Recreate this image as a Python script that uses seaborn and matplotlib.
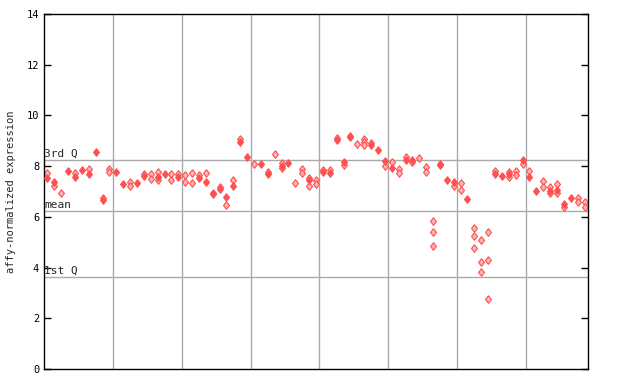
import numpy as np
import pandas as pd
import seaborn as sns
import matplotlib.pyplot as plt

# sample number (1..79) and expression values
filled_idx = [1, 2, 4, 5, 6, 7, 8, 9, 11, 12, 14, 15, 17, 18, 20, 23, 24, 25, 26, 27,
              28, 29, 30, 32, 33, 35, 36, 39, 41, 42, 43, 44, 45, 48, 49, 50, 51, 53,
              54, 58, 59, 60, 62, 66, 67, 68, 70, 71, 72, 74, 75, 76, 77]
filled_val = [7.54, 7.36, 7.82, 7.58, 7.86, 7.70, 8.54, 6.66, 7.78, 7.29, 7.35, 7.63,
              7.56, 7.69, 7.57, 7.54, 7.39, 6.89, 7.10, 6.80, 7.22, 8.96, 8.37, 8.10,
              7.68, 8.02, 8.14, 7.45, 7.76, 7.74, 9.03, 8.17, 9.14, 8.83, 8.62, 8.21,
              7.94, 8.24, 8.24, 8.03, 7.44, 7.39, 6.69, 7.70, 7.62, 7.70, 8.24, 7.58,
              7.03, 7.01, 7.05, 6.51, 6.76]

open_idx = [1, 2, 3, 5, 7, 9, 10, 10, 13, 13, 15, 16, 16, 17, 17, 19, 19, 20, 21, 21,
            22, 22, 23, 24, 25, 26, 27, 28, 29, 31, 33, 34, 35, 35, 37, 38, 38, 39, 39,
            40, 40, 41, 42, 43, 44, 45, 46, 47, 47, 47, 48, 50, 51, 52, 52, 53, 54, 55,
            56, 56, 57, 57, 57, 58, 60, 61, 61, 63, 63, 63, 64, 64, 64, 65, 65, 65, 66,
            68, 68, 69, 69, 70, 71, 73, 73, 74, 74, 75, 75, 76, 78, 78, 79, 79]
open_val = [7.71, 7.23, 6.94, 7.71, 7.87, 6.76, 7.87, 7.78, 7.36, 7.23, 7.70, 7.70,
            7.49, 7.78, 7.45, 7.68, 7.46, 7.70, 7.65, 7.36, 7.71, 7.32, 7.65, 7.71,
            6.95, 7.18, 6.47, 7.45, 9.06, 8.07, 7.76, 8.47, 8.11, 7.91, 7.33, 7.89,
            7.73, 7.54, 7.22, 7.44, 7.28, 7.85, 7.85, 9.11, 8.04, 9.19, 8.87, 9.08,
            8.95, 8.82, 8.90, 8.00, 8.15, 7.89, 7.71, 8.37, 8.18, 8.32, 7.95, 7.78,
            5.82, 5.39, 4.84, 8.10, 7.20, 7.32, 7.06, 5.55, 5.23, 4.76, 5.07, 4.21,
            3.81, 5.39, 4.29, 2.75, 7.82, 7.78, 7.56, 7.81, 7.66, 8.08, 7.82, 7.42,
            7.19, 7.19, 6.93, 7.28, 6.95, 6.38, 6.73, 6.60, 6.57, 6.38]

n_samples = 79
q3, mean, q1 = 8.23, 6.22, 3.61

red = '#ff5050'
diamond = [(0, 1), (0.78, 0), (0, -1), (-0.78, 0), (0, 1)]

df_open = pd.DataFrame({'sample': np.array(open_idx) - 1, 'value': open_val})
df_filled = pd.DataFrame({'sample': np.array(filled_idx) - 1, 'value': filled_val})

sns.set_style('white')
plt.rcParams['font.family'] = ['DejaVu Sans Mono']

fig = plt.figure(figsize=(6.4, 3.84), dpi=100)
ax = fig.add_axes([44 / 640, 15 / 384, 544 / 640, 355 / 384])

# group separators and quartile lines
for x in np.arange(9.5, n_samples, 10):
    ax.axvline(x, color='#aaaaaa', lw=1, zorder=0)
for y in (q3, mean, q1):
    ax.axhline(y, color='#aaaaaa', lw=1, zorder=0)

sns.scatterplot(data=df_open, x='sample', y='value', marker=diamond, s=30,
                color='#ffb4b4', edgecolor=red, linewidth=0.8, ax=ax, zorder=2)
sns.scatterplot(data=df_filled, x='sample', y='value', marker=diamond, s=30,
                color=red, edgecolor=red, linewidth=0.8, ax=ax, zorder=3)

ax.text(-0.45, q3 + 0.05, '3rd Q', fontsize=8, va='bottom', ha='left')
ax.text(-0.45, mean + 0.05, 'mean', fontsize=8, va='bottom', ha='left')
ax.text(-0.45, q1 + 0.05, '1st Q', fontsize=8, va='bottom', ha='left')

ax.set_xlim(-0.5, n_samples - 0.5)
ax.set_ylim(0, 14)
ax.set_yticks(range(0, 15, 2))
ax.set_xticks([])
ax.set_xlabel('')
ax.set_ylabel('affy-normalized expression', fontsize=7.5, labelpad=8)
ax.tick_params(axis='y', direction='in', length=5, width=1, labelsize=7.5,
               right=True, left=True, colors='black')
for sp in ax.spines.values():
    sp.set_color('black')
    sp.set_linewidth(1)

fig.savefig('out.png', dpi=100)
